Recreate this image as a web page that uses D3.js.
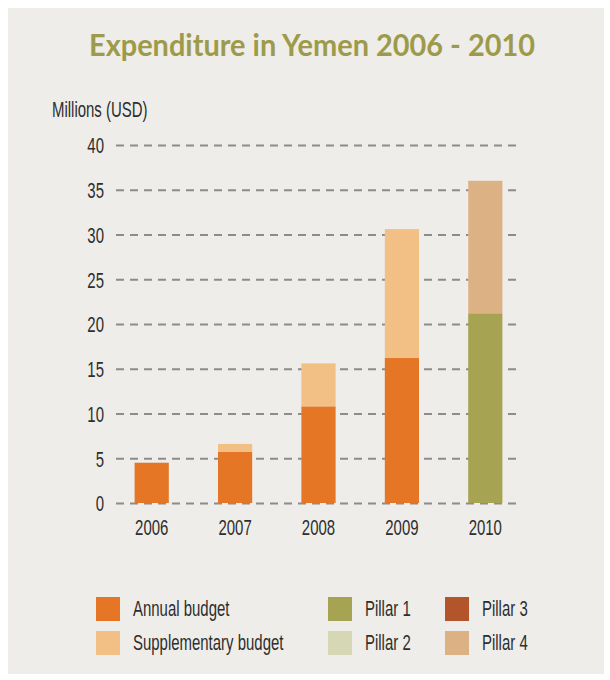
<!DOCTYPE html>
<html>
<head>
<meta charset="utf-8">
<script src="https://cdn.jsdelivr.net/npm/d3@7"></script>
<style>
  html, body { margin: 0; padding: 0; background: #ffffff; }
  svg { display: block; }
</style>
</head>
<body>
<svg id="chart" width="610" height="680"></svg>
<script>
// ---- data ----
const years = ["2006", "2007", "2008", "2009", "2010"];
const annualBudget = [4.5, 5.7, 10.8, 16.2, 0];
const supplementaryBudget = [0, 0.9, 4.8, 14.4, 0];
const pillar1 = [0, 0, 0, 0, 21.2];
const pillar2 = [0, 0, 0, 0, 0];
const pillar3 = [0, 0, 0, 0, 0];
const pillar4 = [0, 0, 0, 0, 14.8];
const yTicks = [0, 5, 10, 15, 20, 25, 30, 35, 40];
const seriesNames = ["Annual budget", "Supplementary budget", "Pillar 1", "Pillar 2", "Pillar 3", "Pillar 4"];
const seriesColors = ["#e57626", "#f2bf84", "#a6a352", "#d5d7b5", "#b3552a", "#dcb285"];

const seriesValues = [annualBudget, supplementaryBudget, pillar1, pillar2, pillar3, pillar4];
const table = years.map((y, i) => {
  const row = { year: y };
  seriesNames.forEach((s, k) => row[s] = seriesValues[k][i]);
  return row;
});

const svg = d3.select("#chart");
const FONT = "'Liberation Sans', Arial, sans-serif";
const FS = 22;
const SQ = 0.68; // horizontal squeeze for condensed look
const TXT = "#2e2e2e";

// paper background
svg.append("rect").attr("x", 8).attr("y", 8).attr("width", 596).attr("height", 666)
  .attr("fill", "#eeede9");

// scales
const x = d3.scaleBand().domain(years).range([110, 527]).paddingInner(0.59).paddingOuter(0.295);
const y = d3.scaleLinear().domain([0, 40]).range([503, 145]);

// gridlines + y labels
const gridLeft = 116, gridRight = 518;
const yAxis = d3.axisLeft(y).tickValues(yTicks).tickSize(-(gridRight - gridLeft)).tickPadding(12);
const ga = svg.append("g").attr("transform", `translate(${gridLeft},0)`).call(yAxis);
ga.select(".domain").remove();
ga.selectAll(".tick line").attr("stroke", "#8c8c8c").attr("stroke-width", 2).attr("stroke-dasharray", "8,6");
ga.selectAll(".tick text")
  .attr("font-family", FONT).attr("font-size", FS).attr("fill", TXT)
  .attr("x", -12 / SQ).attr("dy", "0.36em").attr("transform", `scale(${SQ},1)`);

// stacked bars
const stack = d3.stack().keys(seriesNames);
const stacked = stack(table);
svg.append("g").selectAll("g").data(stacked).join("g")
  .attr("fill", (d, i) => seriesColors[i])
  .selectAll("rect").data(d => d.filter(p => p[1] - p[0] > 0)).join("rect")
  .attr("x", d => x(d.data.year))
  .attr("width", x.bandwidth())
  .attr("y", d => y(d[1]))
  .attr("height", d => y(d[0]) - y(d[1]));

// x labels
const xa = svg.append("g").attr("transform", "translate(0,503)")
  .call(d3.axisBottom(x).tickSize(0).tickPadding(10));
xa.select(".domain").remove();
xa.selectAll(".tick text")
  .attr("font-family", FONT).attr("font-size", FS).attr("fill", TXT)
  .attr("y", 32).attr("dy", 0)
  .attr("transform", `scale(${SQ},1)`);
xa.selectAll(".tick").each(function() {
  const t = d3.select(this);
  const m = /translate\(([-\d.]+),/.exec(t.attr("transform"));
  t.attr("transform", `translate(${m[1]},0)`);
});

// title
svg.append("text").attr("x", 89).attr("y", 56)
  .attr("font-family", "Lato, 'Open Sans', sans-serif").attr("font-weight", 700)
  .attr("font-size", 31).attr("fill", "#9d9b4b")
  .attr("textLength", 446).attr("lengthAdjust", "spacingAndGlyphs")
  .text("Expenditure in Yemen 2006 - 2010");

// y unit label
svg.append("text").attr("transform", `translate(52,117) scale(${SQ},1)`)
  .attr("font-family", FONT).attr("font-size", FS).attr("fill", TXT)
  .text("Millions (USD)");

// legend
const legendPos = [
  { x: 96, y: 597 }, { x: 96, y: 631 },
  { x: 328, y: 597 }, { x: 328, y: 631 },
  { x: 445, y: 597 }, { x: 445, y: 631 }
];
const lg = svg.append("g").selectAll("g").data(seriesNames).join("g")
  .attr("transform", (d, i) => `translate(${legendPos[i].x},${legendPos[i].y})`);
lg.append("rect").attr("width", 24).attr("height", 24).attr("fill", (d, i) => seriesColors[i]);
lg.append("text").attr("transform", `translate(37,19) scale(${SQ},1)`)
  .attr("font-family", FONT).attr("font-size", FS).attr("fill", TXT)
  .text(d => d);
</script>
</body>
</html>
